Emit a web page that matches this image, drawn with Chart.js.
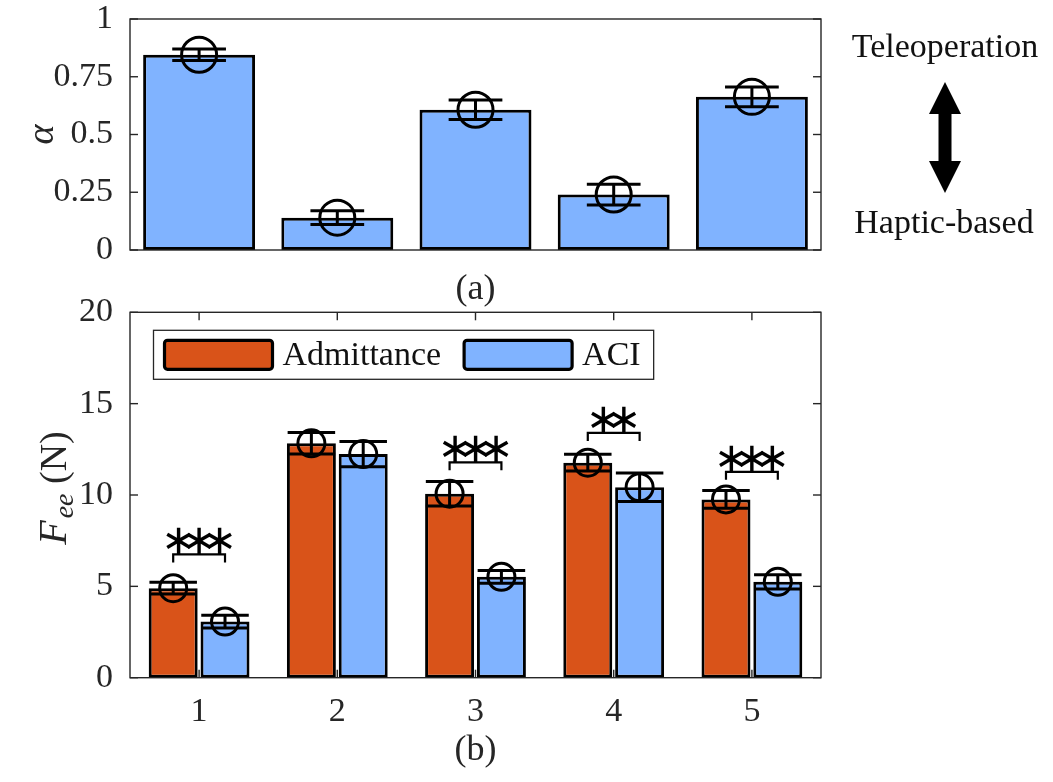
<!DOCTYPE html>
<html><head><meta charset="utf-8">
<script src="https://cdn.jsdelivr.net/npm/chart.js@4/dist/chart.umd.min.js"></script>
<style>
html,body{margin:0;padding:0;background:#fff;width:1053px;height:782px;overflow:hidden;position:relative}
canvas{position:absolute;left:0}
#ca{top:-20px}
#cb{top:260px}
</style></head><body>
<canvas id="ca" width="1053" height="340"></canvas>
<canvas id="cb" width="1053" height="522"></canvas>
<script>
// ---------- data ----------
const categories = ['1', '2', '3', '4', '5'];
const alphaMean = [0.845, 0.14, 0.607, 0.24, 0.663];
const alphaErr  = [0.025, 0.03, 0.042, 0.045, 0.043];
const admMean = [4.9, 12.83, 10.07, 11.77, 9.76];
const admErr  = [0.32, 0.585, 0.67, 0.46, 0.49];
const aciMean = [3.07, 12.24, 5.52, 10.42, 5.25];
const aciErr  = [0.35, 0.69, 0.35, 0.78, 0.39];
const sigLevel = [6.75, null, 11.79, 13.4, 11.27];
const sigStars = ['***', '', '***', '**', '***'];
const yTicksA = [0, 0.25, 0.5, 0.75, 1];
const yTicksB = [0, 5, 10, 15, 20];
const seriesNames = ['Admittance', 'ACI'];

// ---------- style ----------
const SERIF = '"Liberation Serif", "DejaVu Serif", serif';
const AX = '#262626';
const ORANGE = '#D95319';
const BLUE = '#80B3FF';
Chart.defaults.font.family = SERIF;
Chart.defaults.color = AX;

function line(ctx, x1, y1, x2, y2) { ctx.beginPath(); ctx.moveTo(x1, y1); ctx.lineTo(x2, y2); ctx.stroke(); }

function framePlugin(id, withXTicks) {
  return {
    id,
    afterDatasetsDraw(chart) {
      const { ctx, chartArea: a, scales } = chart;
      ctx.save();
      ctx.strokeStyle = AX; ctx.lineWidth = 1.4;
      ctx.strokeRect(a.left, a.top, a.right - a.left, a.bottom - a.top);
      const y = scales.y;
      y.ticks.forEach((t, i) => {
        const p = y.getPixelForTick(i);
        line(ctx, a.left, p, a.left + 8, p);
        line(ctx, a.right, p, a.right - 8, p);
      });
      if (withXTicks) {
        const x = scales.x;
        x.ticks.forEach((t, i) => {
          const p = x.getPixelForTick(i);
          line(ctx, p, a.bottom, p, a.bottom - 8);
          line(ctx, p, a.top, p, a.top + 8);
        });
      }
      ctx.restore();
    }
  };
}

const errorPlugin = {
  id: 'errbars',
  afterDatasetsDraw(chart, args, o) {
    const ctx = chart.ctx, ys = chart.scales.y;
    ctx.save();
    ctx.strokeStyle = '#000'; ctx.lineWidth = 3;
    chart.data.datasets.forEach((ds, di) => {
      const meta = chart.getDatasetMeta(di);
      meta.data.forEach((bar, i) => {
        const m = ds.data[i], e = ds.err[i];
        const x = bar.x;
        const yc = ys.getPixelForValue(m);
        const yh = ys.getPixelForValue(m + e);
        const yl = ys.getPixelForValue(m - e);
        const hw = o.capFrac * bar.width / 2;
        line(ctx, x, yh, x, yl);
        line(ctx, x - hw, yh, x + hw, yh);
        line(ctx, x - hw, yl, x + hw, yl);
        ctx.beginPath(); ctx.arc(x, yc, o.radius, 0, Math.PI * 2); ctx.stroke();
      });
    });
    ctx.restore();
  }
};

// ---------- chart (a) ----------
const annotA = {
  id: 'annotA',
  afterDraw(chart) {
    const ctx = chart.ctx;
    const off = 20; // canvas offset relative to page
    ctx.save();
    ctx.fillStyle = '#111';
    ctx.font = '34px ' + SERIF;
    ctx.textAlign = 'center'; ctx.textBaseline = 'middle';
    ctx.fillText('Teleoperation', 945, 48 + off);
    ctx.fillText('Haptic-based', 944, 224 + off);
    // double arrow
    const cx = 945, yt = 82 + off, yb = 193 + off, hw = 16, hl = 32, sw = 6.5;
    ctx.fillStyle = '#000';
    ctx.beginPath();
    ctx.moveTo(cx, yt);
    ctx.lineTo(cx + hw, yt + hl); ctx.lineTo(cx + sw, yt + hl);
    ctx.lineTo(cx + sw, yb - hl); ctx.lineTo(cx + hw, yb - hl);
    ctx.lineTo(cx, yb);
    ctx.lineTo(cx - hw, yb - hl); ctx.lineTo(cx - sw, yb - hl);
    ctx.lineTo(cx - sw, yt + hl); ctx.lineTo(cx - hw, yt + hl);
    ctx.closePath(); ctx.fill();
    ctx.restore();
  }
};

new Chart(document.getElementById('ca'), {
  type: 'bar',
  data: {
    labels: categories,
    datasets: [{
      label: 'alpha',
      data: alphaMean,
      err: alphaErr,
      backgroundColor: BLUE,
      borderColor: '#000',
      borderWidth: 3,
      borderSkipped: false,
      categoryPercentage: 0.81,
      barPercentage: 1
    }]
  },
  options: {
    responsive: false,
    animation: false,
    layout: { padding: { top: 39, right: 232, left: 0, bottom: 0 } },
    plugins: { legend: { display: false }, tooltip: { enabled: false },
      errbars: { capFrac: 0.48, radius: 17.5 } },
    scales: {
      x: {
        grid: { display: false, drawTicks: false, tickLength: 0 },
        border: { display: false },
        ticks: { display: false },
        title: { display: true, text: '(a)', font: { size: 36 }, color: AX, padding: { top: 0, bottom: 9 } },
        afterFit(s) { s.height = 70; }
      },
      y: {
        min: 0, max: 1,
        afterBuildTicks(s) { s.ticks = yTicksA.map(v => ({ value: v })); },
        grid: { display: false, drawTicks: false, tickLength: 0 },
        border: { display: false },
        ticks: { padding: 17, font: { size: 34, lineHeight: 1 }, color: AX, callback: v => String(v) },
        title: { display: true, text: 'α', font: { size: 38, style: 'italic' }, color: AX, padding: { top: 20, bottom: 0 } },
        afterFit(s) { s.width = 130; }
      }
    }
  },
  plugins: [errorPlugin, framePlugin('frameA', false), annotA]
});

// ---------- chart (b) ----------
const sigPlugin = {
  id: 'sig',
  afterDatasetsDraw(chart) {
    const ctx = chart.ctx, ys = chart.scales.y;
    const m0 = chart.getDatasetMeta(0), m1 = chart.getDatasetMeta(1);
    ctx.save();
    ctx.strokeStyle = '#000'; ctx.lineWidth = 2.2;
    ctx.fillStyle = '#000';
    ctx.font = '42px "DejaVu Sans"';
    ctx.textAlign = 'center'; ctx.textBaseline = 'middle';
    sigLevel.forEach((lv, i) => {
      if (lv === null) return;
      const x1 = m0.data[i].x, x2 = m1.data[i].x;
      const yb = ys.getPixelForValue(lv);
      ctx.beginPath();
      ctx.moveTo(x1, yb + 8); ctx.lineTo(x1, yb); ctx.lineTo(x2, yb); ctx.lineTo(x2, yb + 8);
      ctx.stroke();
      const s = sigStars[i], n = s.length, pitch = 20.5;
      const xc = (x1 + x2) / 2;
      for (let k = 0; k < n; k++) {
        ctx.fillText('∗', xc + (k - (n - 1) / 2) * pitch, yb - 11);
      }
    });
    ctx.restore();
  }
};

const legendPlugin = {
  id: 'legendBox',
  afterDraw(chart) {
    const ctx = chart.ctx, a = chart.chartArea;
    const x0 = a.left + 23.5, y0 = a.top + 18, h = 49;
    ctx.save();
    ctx.font = '34px ' + SERIF;
    const items = chart.data.datasets.map(d => ({ label: d.label, color: d.backgroundColor }));
    let w = 10;
    items.forEach((it, k) => { w += 110 + 9 + ctx.measureText(it.label).width + (k < items.length - 1 ? 22 : 13); });
    ctx.fillStyle = '#fff'; ctx.fillRect(x0, y0, w, h);
    ctx.strokeStyle = AX; ctx.lineWidth = 1.3; ctx.strokeRect(x0, y0, w, h);
    let x = x0 + 10;
    items.forEach((it, k) => {
      ctx.fillStyle = it.color; ctx.strokeStyle = '#000'; ctx.lineWidth = 3.2;
      ctx.beginPath(); ctx.roundRect(x + 1, y0 + 10, 108, 29, 3); ctx.fill(); ctx.stroke();
      ctx.fillStyle = '#111'; ctx.textAlign = 'left'; ctx.textBaseline = 'middle';
      ctx.fillText(it.label, x + 119, y0 + h / 2 + 1);
      x += 110 + 9 + ctx.measureText(it.label).width + 22;
    });
    ctx.restore();
  }
};

const yTitleB = {
  id: 'yTitleB',
  afterDraw(chart) {
    const ctx = chart.ctx, a = chart.chartArea;
    ctx.save();
    ctx.fillStyle = AX;
    const big = 'italic 40px ' + SERIF, sub = 'italic 28px ' + SERIF, rom = '38px ' + SERIF;
    ctx.font = big; const wF = ctx.measureText('F').width;
    ctx.font = sub; const wS = ctx.measureText('ee').width;
    ctx.font = rom; const wN = ctx.measureText(' (N)').width;
    const total = wF + 2 + wS + wN;
    ctx.translate(66, (a.top + a.bottom) / 2 - 7);
    ctx.rotate(-Math.PI / 2);
    ctx.textBaseline = 'alphabetic'; ctx.textAlign = 'left';
    let x = -total / 2;
    ctx.font = big; ctx.fillText('F', x, 0); x += wF + 2;
    ctx.font = sub; ctx.fillText('ee', x, 7); x += wS;
    ctx.font = rom; ctx.fillText(' (N)', x, 0);
    ctx.restore();
  }
};

new Chart(document.getElementById('cb'), {
  type: 'bar',
  data: {
    labels: categories,
    datasets: [
      { label: seriesNames[0], data: admMean, err: admErr, backgroundColor: ORANGE, borderColor: '#000',
        borderWidth: 3, borderSkipped: false, categoryPercentage: 0.75, barPercentage: 0.945 },
      { label: seriesNames[1], data: aciMean, err: aciErr, backgroundColor: BLUE, borderColor: '#000',
        borderWidth: 3, borderSkipped: false, categoryPercentage: 0.75, barPercentage: 0.945 }
    ]
  },
  options: {
    responsive: false,
    animation: false,
    layout: { padding: { top: 52.3, right: 232, left: 0, bottom: 0 } },
    plugins: { legend: { display: false }, tooltip: { enabled: false },
      errbars: { capFrac: 0.97, radius: 13.5 } },
    scales: {
      x: {
        grid: { display: false, drawTicks: false, tickLength: 0 },
        border: { display: false },
        ticks: { padding: 17, font: { size: 34, lineHeight: 1 }, color: AX, maxRotation: 0, autoSkip: false },
        title: { display: true, text: '(b)', font: { size: 36 }, color: AX, padding: { top: 0, bottom: 10 } },
        afterFit(s) { s.height = 104.3; }
      },
      y: {
        min: 0, max: 20,
        afterBuildTicks(s) { s.ticks = yTicksB.map(v => ({ value: v })); },
        grid: { display: false, drawTicks: false, tickLength: 0 },
        border: { display: false },
        ticks: { padding: 17, font: { size: 34, lineHeight: 1 }, color: AX, callback: v => String(v) },
        afterFit(s) { s.width = 130; }
      }
    }
  },
  plugins: [errorPlugin, sigPlugin, framePlugin('frameB', true), legendPlugin, yTitleB]
});
</script>
</body></html>
